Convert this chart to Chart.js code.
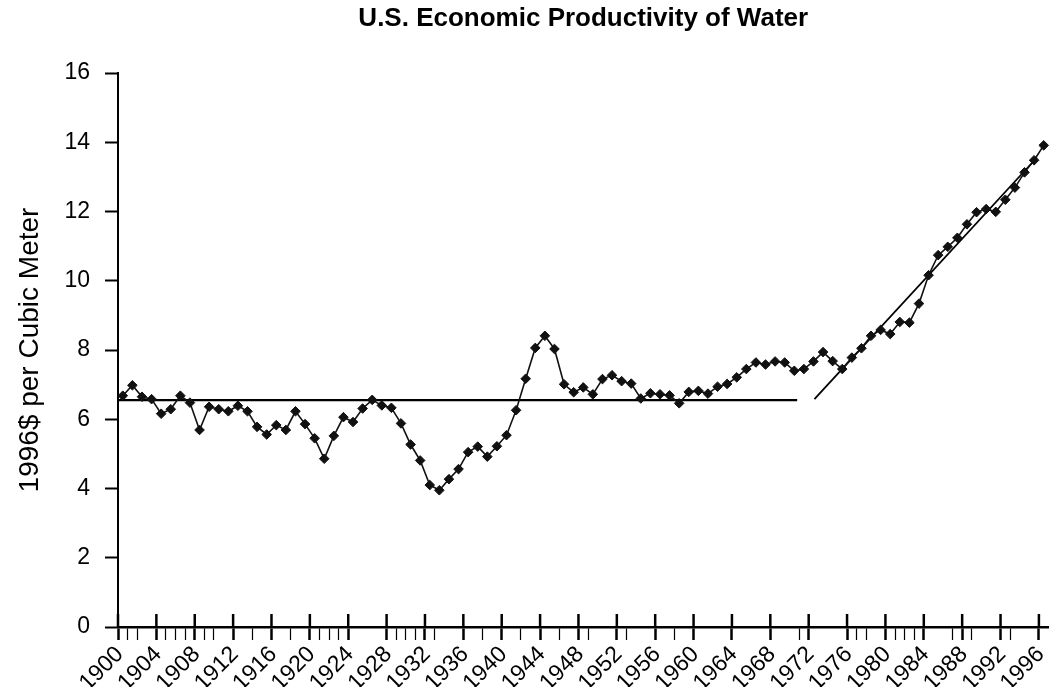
<!DOCTYPE html>
<html>
<head>
<meta charset="utf-8">
<script src="https://cdn.jsdelivr.net/npm/chart.js@4.4.1/dist/chart.umd.min.js"></script>
<style>
  html, body { margin: 0; padding: 0; background: #fff; }
  #wrap { width: 1058px; height: 687px; }
</style>
</head>
<body>
<div id="wrap"><canvas id="waterChart" width="1058" height="687"></canvas></div>
<script>
// years 1900..1996, one value per year
const years = [];
for (let y = 1900; y <= 1996; y++) years.push(String(y));

const productivity = [
  6.68, 6.98, 6.65, 6.58, 6.16, 6.29, 6.68, 6.48, 5.69, 6.36,   // 1900s
  6.29, 6.23, 6.39, 6.23, 5.78, 5.56, 5.83, 5.69, 6.23, 5.86,   // 1910s
  5.45, 4.86, 5.52, 6.06, 5.92, 6.31, 6.56, 6.40, 6.33, 5.88,   // 1920s
  5.27, 4.81, 4.10, 3.95, 4.27, 4.56, 5.05, 5.21, 4.92, 5.22,   // 1930s
  5.54, 6.26, 7.17, 8.06, 8.41, 8.03, 7.01, 6.78, 6.92, 6.72,   // 1940s
  7.16, 7.27, 7.10, 7.03, 6.60, 6.75, 6.72, 6.69, 6.46, 6.79,   // 1950s
  6.82, 6.74, 6.94, 7.02, 7.21, 7.45, 7.64, 7.58, 7.67, 7.64,   // 1960s
  7.40, 7.45, 7.67, 7.94, 7.68, 7.45, 7.78, 8.05, 8.41, 8.58,   // 1970s
  8.46, 8.81, 8.79, 9.34, 10.16, 10.74, 10.98, 11.24, 11.63, 11.98, // 1980s
  12.07, 11.99, 12.34, 12.69, 13.13, 13.48, 13.91               // 1990-96
];

// two fitted trend lines (x in years)
const flatTrendX = [1899.5, 1970.3];
const flatTrendY = [6.55, 6.55];
const riseTrendX = [1972.1, 1995.3];
const riseTrendY = [6.58, 13.56];

const yTicks = [0, 2, 4, 6, 8, 10, 12, 14, 16];
// years that get a short tick mark below the axis (besides every 4th year)
const minorTickYears = [1901, 1902, 1905, 1906, 1907, 1909, 1910, 1914, 1918, 1921, 1922, 1923,
  1929, 1930, 1931, 1933, 1938, 1942, 1946, 1949, 1953, 1958, 1971, 1977, 1978,
  1981, 1982, 1983, 1987, 1989, 1993];

const FONT = "'Liberation Sans', Arial, sans-serif";

function isMajor(i) { return i % 4 === 0; }
function isMinor(i) { return minorTickYears.indexOf(1900 + i) >= 0; }

// major ticks cross the axis: draw the part above it
const upperTicks = {
  id: 'upperTicks',
  afterDraw(chart) {
    const x = chart.scales.x;
    const c = chart.ctx;
    const half = (x.getPixelForValue(1) - x.getPixelForValue(0)) / 2;
    const base = chart.chartArea.bottom;
    c.save();
    c.strokeStyle = '#000';
    c.lineWidth = 2.5;
    for (let i = 0; i < years.length; i++) {
      if (!isMajor(i)) continue;
      const px = x.getPixelForValue(i) - half;
      c.beginPath();
      c.moveTo(px, base - 13);
      c.lineTo(px, base);
      c.stroke();
    }
    c.restore();
  }
};

const ctx = document.getElementById('waterChart').getContext('2d');
new Chart(ctx, {
  type: 'line',
  data: {
    labels: years,
    datasets: [{
      label: 'Productivity',
      data: productivity,
      borderColor: '#111',
      borderWidth: 1.6,
      backgroundColor: '#111',
      pointStyle: 'rectRot',
      pointRadius: 4.8,
      pointBorderWidth: 1,
      pointBackgroundColor: '#111',
      pointBorderColor: '#111',
      tension: 0
    }, {
      label: 'flat trend',
      data: flatTrendX.map((v, i) => ({ x: v, y: flatTrendY[i] })),
      xAxisID: 'x2',
      borderColor: '#000',
      borderWidth: 2.2,
      pointRadius: 0
    }, {
      label: 'rising trend',
      data: riseTrendX.map((v, i) => ({ x: v, y: riseTrendY[i] })),
      xAxisID: 'x2',
      borderColor: '#000',
      borderWidth: 1.8,
      pointRadius: 0
    }]
  },
  options: {
    responsive: false,
    animation: false,
    layout: { padding: { left: 0, right: 9.5, top: 0, bottom: 0 } },
    plugins: {
      legend: { display: false },
      tooltip: { enabled: false },
      title: {
        display: true,
        text: 'U.S. Economic Productivity of Water',
        fullSize: false,
        color: '#000',
        font: { family: FONT, size: 26, weight: 'bold' },
        padding: { top: 3, bottom: 38.8 }
      }
    },
    scales: {
      x: {
        type: 'category',
        offset: true,
        grid: {
          offset: true,
          drawOnChartArea: false,
          drawTicks: true,
          tickLength: 13,
          tickColor: (c) => (c.index !== undefined && c.type === 'tick' && (isMajor(c.index) || isMinor(c.index))) ? '#000' : 'rgba(0,0,0,0)',
          tickWidth: (c) => (c.index !== undefined && isMajor(c.index)) ? 2.5 : 1.2
        },
        border: { display: true, color: '#000', width: 2.5 },
        ticks: {
          autoSkip: false,
          maxRotation: 45,
          minRotation: 45,
          padding: 1,
          labelOffset: -3,
          color: '#000',
          font: { family: FONT, size: 23 },
          callback: function (val, i) { return isMajor(i) ? this.getLabelForValue(val) : ''; }
        },
        afterFit: (s) => { s.height = 60; s.paddingLeft = 0; s.paddingRight = 0; }
      },
      x2: {
        type: 'linear',
        display: false,
        min: 1899.5,
        max: 1996.5
      },
      y: {
        min: 0,
        max: 16,
        afterBuildTicks: (s) => { s.ticks = yTicks.map(v => ({ value: v })); },
        grid: { drawOnChartArea: false, tickLength: 13, tickWidth: 2, tickColor: '#000' },
        border: { display: true, color: '#000', width: 2 },
        ticks: { padding: 15, color: '#000', font: { family: FONT, size: 23 } },
        title: {
          display: true,
          text: '1996$ per Cubic Meter',
          color: '#000',
          font: { family: FONT, size: 28 },
          padding: { top: 13, bottom: 0 }
        },
        afterFit: (s) => { s.width = 118; }
      }
    }
  },
  plugins: [upperTicks]
});
</script>
</body>
</html>
